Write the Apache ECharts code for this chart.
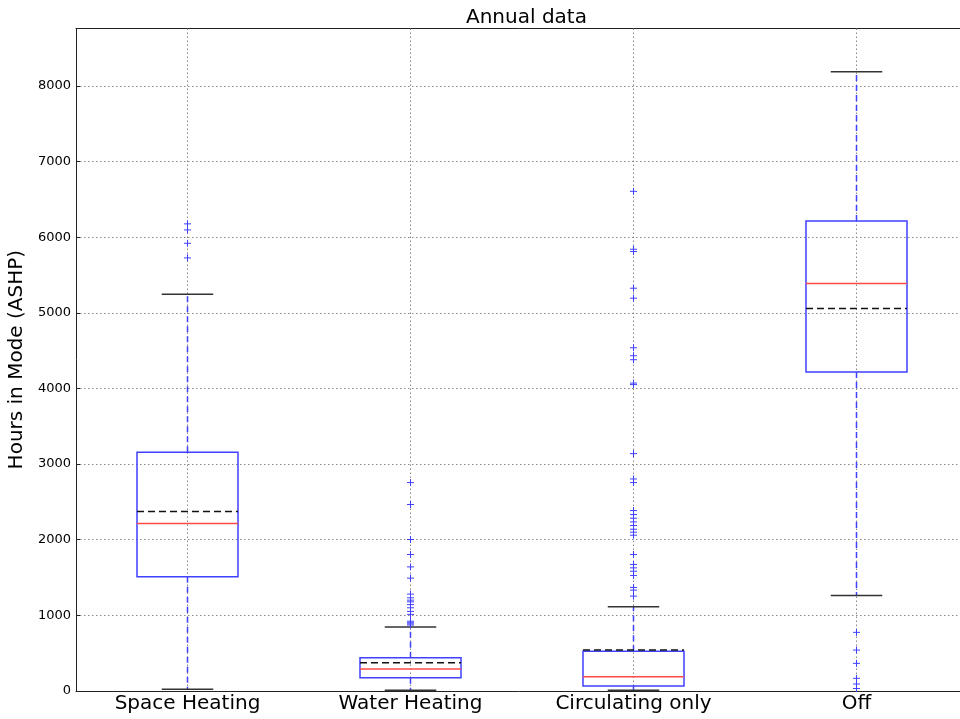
<!DOCTYPE html>
<html><head><meta charset="utf-8">
<script src="https://cdn.jsdelivr.net/npm/echarts@6/dist/echarts.min.js"></script>
<style>html,body{margin:0;padding:0;background:#fff}#main{width:960px;height:719px}</style>
</head><body><div id="main"></div>
<script>
const categories = ['Space Heating', 'Water Heating', 'Circulating only', 'Off'];
const whiskerLow  = [20, 8, 8, 1261];
const q1          = [1508, 173, 63, 4216];
const median      = [2213, 288, 186, 5387];
const mean        = [2371, 371, 539, 5057];
const q3          = [3155, 437, 522, 6215];
const whiskerHigh = [5246, 843, 1111, 8188];
const outliersSpaceHeating = [6176, 6096, 5919, 5726];
const outliersWaterHeating = [2754, 2464, 2001, 1803, 1639, 1490, 1279, 1230, 1199, 1177, 1140, 1098, 1050, 1011, 920, 900, 885, 870];
const outliersCirculating = [6606, 5840, 5810, 5325, 5193, 4537, 4432, 4379, 4070, 4050, 3137, 2802, 2754, 2384, 2331, 2283, 2234, 2186, 2137, 2098, 2058, 1803, 1671, 1626, 1582, 1526, 1367, 1332, 1252];
const outliersOff = [773, 539, 363, 165, 90, 30];
const outliers = [outliersSpaceHeating, outliersWaterHeating, outliersCirculating, outliersOff];
const yMax = 8760;
const yInterval = 1000;

const FONT = 'DejaVu Sans';
const BLUE = '#4040ff';
const RED = '#ff4a4a';
const SPINE = '#222';

function renderItem(params, api) {
  const i = api.value(0);
  const band = api.size([1, 0])[0];
  const cx = api.coord([i, 0])[0];
  const yOf = v => api.coord([i, v])[1];
  const bw = band * 0.453 / 2;
  const cw = band * 0.231 / 2;
  const cs = params.coordSys;
  const ch = [];
  ch.push({type: 'line', shape: {x1: cx, y1: cs.y, x2: cx, y2: cs.y + cs.height},
    style: {stroke: '#888', lineWidth: 1, lineDash: [1.5, 2.5]}});
  ch.push({type: 'line', shape: {x1: cx, y1: yOf(q3[i]), x2: cx, y2: yOf(whiskerHigh[i])},
    style: {stroke: BLUE, lineWidth: 1.5, lineDash: [6, 4]}});
  ch.push({type: 'line', shape: {x1: cx, y1: yOf(q1[i]), x2: cx, y2: yOf(whiskerLow[i])},
    style: {stroke: BLUE, lineWidth: 1.5, lineDash: [6, 4]}});
  const yt = yOf(q3[i]), yb = yOf(q1[i]);
  ch.push({type: 'rect', shape: {x: cx - bw, y: yt, width: 2 * bw, height: yb - yt},
    style: {fill: 'none', stroke: BLUE, lineWidth: 1.5}});
  ch.push({type: 'line', shape: {x1: cx - bw, y1: yOf(median[i]), x2: cx + bw, y2: yOf(median[i])},
    style: {stroke: RED, lineWidth: 1.5}});
  ch.push({type: 'line', shape: {x1: cx - bw, y1: yOf(mean[i]), x2: cx + bw, y2: yOf(mean[i])},
    style: {stroke: '#111', lineWidth: 1.5, lineDash: [7, 4]}});
  [whiskerHigh[i], whiskerLow[i]].forEach(v => {
    ch.push({type: 'line', shape: {x1: cx - cw, y1: yOf(v), x2: cx + cw, y2: yOf(v)},
      style: {stroke: '#333', lineWidth: 1.5}});
  });
  outliers[i].forEach(v => {
    const y = yOf(v);
    ch.push({type: 'line', shape: {x1: cx - 3.5, y1: y, x2: cx + 3.5, y2: y}, style: {stroke: BLUE, lineWidth: 1}});
    ch.push({type: 'line', shape: {x1: cx, y1: y - 3.5, x2: cx, y2: y + 3.5}, style: {stroke: BLUE, lineWidth: 1}});
  });
  return {type: 'group', children: ch};
}

const chart = echarts.init(document.getElementById('main'), null, {renderer: 'canvas'});
chart.setOption({
  animation: false,
  backgroundColor: '#fff',
  title: {text: 'Annual data', left: 461, top: 3,
    textStyle: {fontFamily: FONT, fontSize: 20, fontWeight: 'normal', color: '#000'}},
  grid: {left: 76, top: 28.5, width: 892, height: 662.3, show: false,
    containLabel: false, outerBoundsMode: 'none'},
  xAxis: [
    {type: 'category', data: categories, boundaryGap: true, position: 'bottom',
      axisLine: {show: true, lineStyle: {color: SPINE, width: 1}}, axisTick: {show: false}, splitLine: {show: false},
      axisLabel: {fontFamily: FONT, fontSize: 20, color: '#000', margin: 3}},
    {type: 'category', data: categories, boundaryGap: true, position: 'top',
      axisLine: {show: true, lineStyle: {color: SPINE, width: 1}}, axisTick: {show: false}, splitLine: {show: false},
      axisLabel: {show: false}}
  ],
  yAxis: {type: 'value', min: 0, max: yMax, interval: yInterval,
    name: 'Hours in Mode (ASHP)', nameLocation: 'middle', nameGap: 39,
    nameTextStyle: {fontFamily: FONT, fontSize: 20, color: '#000'},
    axisLine: {show: true, lineStyle: {color: SPINE, width: 1}},
    axisTick: {show: true, inside: true, length: 4, lineStyle: {color: SPINE}},
    axisLabel: {fontFamily: FONT, fontSize: 13, color: '#000', margin: 5, showMaxLabel: false,
      formatter: v => String(v)},
    splitLine: {show: true, showMinLine: false, showMaxLine: false,
      lineStyle: {color: '#888', type: [1.5, 2.5], width: 1}}},
  series: [{type: 'custom', renderItem: renderItem, clip: false,
    xAxisIndex: 0, encode: {x: 0, y: 1},
    data: categories.map((c, i) => [i, median[i]])}]
});
</script>
</body></html>
